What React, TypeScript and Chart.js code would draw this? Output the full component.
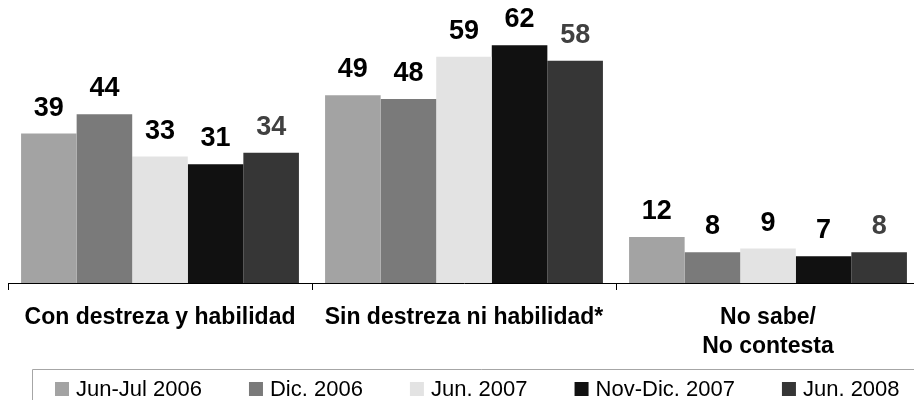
import React, { useEffect, useRef } from "react";
import { Chart, registerables } from "chart.js";

Chart.register(...registerables);

const categories: string[][] = [
  ["Con destreza y habilidad"],
  ["Sin destreza ni habilidad*"],
  ["No sabe/", "No contesta"],
];
const seriesLabels = ["Jun-Jul 2006", "Dic. 2006", "Jun. 2007", "Nov-Dic. 2007", "Jun. 2008"];
const junJul2006 = [39, 49, 12];
const dic2006 = [44, 48, 8];
const jun2007 = [33, 59, 9];
const novDic2007 = [31, 62, 7];
const jun2008 = [34, 58, 8];
const seriesValues = [junJul2006, dic2006, jun2007, novDic2007, jun2008];

const barColors = ["#a3a3a3", "#7a7a7a", "#e3e3e3", "#111111", "#363636"];
const valueLabelColors = ["#000000", "#000000", "#000000", "#000000", "#404040"];

const FONT = "'Liberation Sans', Arial, sans-serif";

const valueLabelPlugin = {
  id: "valueLabels",
  afterDatasetsDraw(chart: any) {
    const ctx = chart.ctx;
    ctx.save();
    ctx.font = `bold 27px ${FONT}`;
    ctx.textAlign = "center";
    ctx.textBaseline = "alphabetic";
    chart.data.datasets.forEach((ds: any, i: number) => {
      const meta = chart.getDatasetMeta(i);
      meta.data.forEach((bar: any, j: number) => {
        ctx.fillStyle = valueLabelColors[i];
        ctx.fillText(String(ds.data[j]), bar.x, bar.y - 18);
      });
    });
    ctx.restore();
  },
};

const legendPlugin = {
  id: "customLegend",
  afterDraw(chart: any) {
    const ctx = chart.ctx;
    ctx.save();
    ctx.strokeStyle = "#a6a6a6";
    ctx.lineWidth = 1;
    ctx.beginPath();
    ctx.moveTo(32.5, chart.height);
    ctx.lineTo(32.5, 369.5);
    ctx.lineTo(chart.width, 369.5);
    ctx.stroke();
    ctx.font = `22px ${FONT}`;
    ctx.textAlign = "left";
    ctx.textBaseline = "alphabetic";
    let x = 55;
    chart.data.datasets.forEach((ds: any) => {
      ctx.fillStyle = ds.backgroundColor;
      ctx.fillRect(x, 382, 14, 14);
      ctx.fillStyle = "#000000";
      ctx.fillText(ds.label, x + 21, 396);
      x += 21 + ctx.measureText(ds.label).width + 47;
    });
    ctx.restore();
  },
};

export default function App() {
  const ref = useRef<HTMLCanvasElement | null>(null);

  useEffect(() => {
    if (!ref.current) return;
    const chart = new Chart(ref.current, {
      type: "bar",
      data: {
        labels: categories as any,
        datasets: seriesLabels.map((label, i) => ({
          label,
          data: seriesValues[i],
          backgroundColor: barColors[i],
          borderWidth: 0,
          categoryPercentage: 0.914,
          barPercentage: 1.0,
        })),
      },
      options: {
        animation: false,
        responsive: false,
        events: [],
        layout: { padding: { top: 7, left: 8, right: 10, bottom: 37 } },
        plugins: {
          legend: { display: false },
          tooltip: { enabled: false },
        },
        scales: {
          x: {
            offset: true,
            clip: false,
            grid: {
              offset: true,
              drawOnChartArea: false,
              drawTicks: true,
              tickLength: 7,
              color: "#000000",
              lineWidth: 1,
            },
            border: { display: true, color: "#000000", width: 1 },
            ticks: {
              color: "#000000",
              font: { family: FONT, size: 23, weight: "bold", lineHeight: 1.26 },
              padding: 13,
              maxRotation: 0,
              minRotation: 0,
              autoSkip: false,
            },
            afterFit: (s: any) => {
              s.height = 80;
            },
          } as any,
          y: {
            display: false,
            min: 0,
            max: 72,
          },
        },
      },
      plugins: [valueLabelPlugin, legendPlugin],
    });
    return () => chart.destroy();
  }, []);

  return (
    <div
      style={{
        position: "fixed",
        left: 0,
        top: 0,
        width: 914,
        height: 400,
        overflow: "hidden",
        background: "#ffffff",
      }}
    >
      <canvas ref={ref} width={930} height={400} style={{ display: "block" }} />
    </div>
  );
}
